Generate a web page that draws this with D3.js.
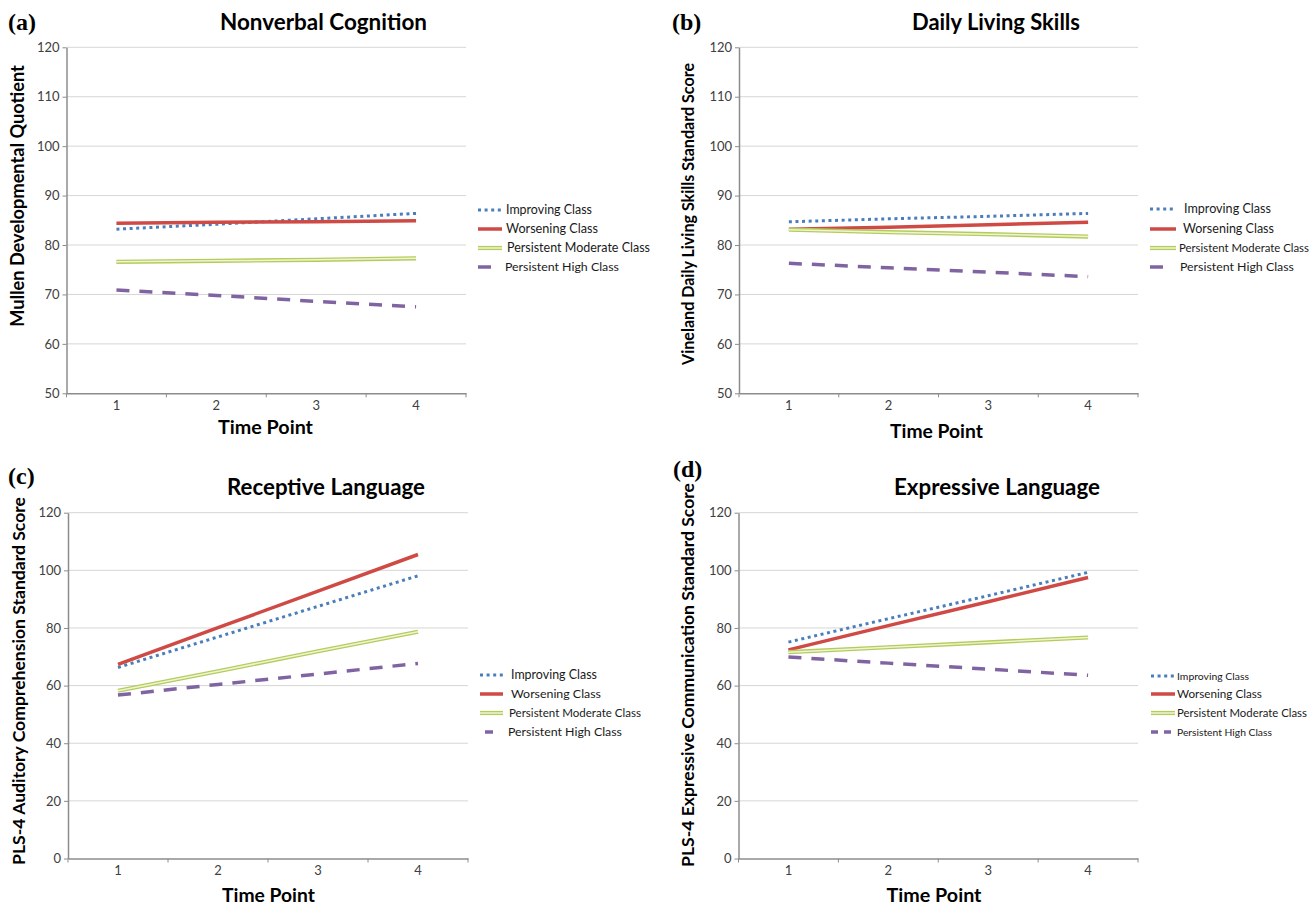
<!DOCTYPE html>
<html><head><meta charset="utf-8">
<script src="https://cdn.jsdelivr.net/npm/d3@7"></script>
<style>body{margin:0;background:#fff} svg{display:block}</style>
</head><body><svg id="chart" width="1312" height="906"></svg>
<script>
// ---------------- data ----------------
const timePoints = [1, 2, 3, 4];
const classNames = ["Improving Class", "Worsening Class", "Persistent Moderate Class", "Persistent High Class"];
const panelLetters = ["(a)", "(b)", "(c)", "(d)"];
const panelTitles = ["Nonverbal Cognition", "Daily Living Skills", "Receptive Language", "Expressive Language"];
const yAxisTitles = ["Mullen Developmental Quotient", "Vineland Daily Living Skills Standard Score",
  "PLS-4 Auditory Comprehension Standard Score", "PLS-4 Expressive Communication Standard Score"];
const xAxisTitle = "Time Point";
const yTicksTop = [50, 60, 70, 80, 90, 100, 110, 120];
const yTicksBottom = [0, 20, 40, 60, 80, 100, 120];

// (a) Nonverbal Cognition
const nonverbalImproving = [83.2, 84.2, 85.3, 86.4];
const nonverbalWorsening = [84.4, 84.6, 84.7, 84.9];
const nonverbalModerate  = [76.6, 76.8, 77.0, 77.3];
const nonverbalHigh      = [70.9, 69.8, 68.6, 67.5];
// (b) Daily Living Skills
const dailyImproving = [84.7, 85.3, 85.8, 86.4];
const dailyWorsening = [83.2, 83.6, 84.1, 84.6];
const dailyModerate  = [83.1, 82.6, 82.2, 81.7];
const dailyHigh      = [76.3, 75.4, 74.5, 73.6];
// (c) Receptive Language
const receptiveImproving = [66.3, 76.9, 87.5, 98.1];
const receptiveWorsening = [67.4, 80.1, 92.8, 105.5];
const receptiveModerate  = [58.2, 65.0, 71.9, 78.7];
const receptiveHigh      = [56.7, 60.4, 64.0, 67.7];
// (d) Expressive Language
const expressiveImproving = [75.1, 83.2, 91.2, 99.3];
const expressiveWorsening = [72.4, 80.8, 89.1, 97.5];
const expressiveModerate  = [71.6, 73.3, 75.0, 76.7];
const expressiveHigh      = [69.9, 67.8, 65.7, 63.6];

// ---------------- layout / styles ----------------
const panels = [
  { series: [nonverbalImproving, nonverbalWorsening, nonverbalModerate, nonverbalHigh],
    ticks: yTicksTop, left: 66.5, right: 466, top: 47.3, bottom: 393.3,
    letter: [8, 30], title: [220, 30, 207], ytitle: [17.5, 196, 262], xtitle: [265.5, 427, 95],
    legend: { x0: 478, len: 24, tx: [506, 506, 507, 505], rows: [210, 229, 248, 267], widths: [86, 92, 143, 114], hx0: 478, hlen: 13, hdash: "13,20" } },
  { series: [dailyImproving, dailyWorsening, dailyModerate, dailyHigh],
    ticks: yTicksTop, left: 739, right: 1138, top: 47.3, bottom: 393.3,
    letter: [672, 30], title: [912, 30, 168], ytitle: [688, 214, 302], xtitle: [936.5, 431, 93],
    legend: { x0: 1150, len: 26, tx: [1184, 1183, 1179, 1180], rows: [209, 229, 248, 267], widths: [87, 91, 130, 114], hx0: 1150, hlen: 13, hdash: "13,20" } },
  { series: [receptiveImproving, receptiveWorsening, receptiveModerate, receptiveHigh],
    ticks: yTicksBottom, left: 68, right: 468, top: 512.7, bottom: 858.5,
    letter: [8, 484], title: [227, 495, 198], ytitle: [18.5, 681, 368], xtitle: [268.5, 895, 93],
    legend: { x0: 480, len: 23, tx: [511, 511, 509, 508], rows: [675, 694, 713, 732], widths: [86, 90, 132, 114], hx0: 485, hlen: 8, hdash: "8,20" } },
  { series: [expressiveImproving, expressiveWorsening, expressiveModerate, expressiveHigh],
    ticks: yTicksBottom, left: 738.5, right: 1138, top: 512.7, bottom: 858.5,
    letter: [673, 477], title: [894, 495, 206], ytitle: [687.5, 675, 384], xtitle: [934, 895, 95],
    legend: { x0: 1151, len: 24, tx: [1177, 1177, 1177, 1177], rows: [676, 694, 713, 732], widths: [72, 85, 130, 95], hx0: 1151, hlen: 24, hdash: "7,6" } }
];

const BASE_FONT = "Lato, 'Open Sans', sans-serif";
const styleFor = [
  { color: "#4a7ebb", width: 3, dash: "3,3.6" },
  { color: "#cf4a45", width: 3.5, dash: null },
  { color: "#b5cc5c", width: 4.2, dash: null, inner: "#eef4d6", innerWidth: 1.5 },
  { color: "#8064a2", width: 3.5, dash: "13,10" }
];

const svg = d3.select("#chart");

function fitText(sel, target) {
  const node = sel.node();
  const fs = parseFloat(sel.attr("font-size"));
  const w = node.getComputedTextLength();
  if (w > 0) sel.attr("font-size", (fs * target / w).toFixed(2));
  return sel;
}

function drawStroke(g, pathD, st, dashOverride) {
  const p = g.append("path").attr("d", pathD).attr("fill", "none")
    .attr("stroke", st.color).attr("stroke-width", st.width).attr("stroke-linejoin", "round");
  const dash = dashOverride || st.dash;
  if (dash) p.attr("stroke-dasharray", dash);
  if (st.inner) {
    g.append("path").attr("d", pathD).attr("fill", "none")
      .attr("stroke", st.inner).attr("stroke-width", st.innerWidth);
  }
}

function draw() {
  panels.forEach((P, pi) => {
    const g = svg.append("g");
    const domain = d3.extent(P.ticks);
    const y = d3.scaleLinear().domain(domain).range([P.bottom, P.top]);
    const xb = d3.scaleBand().domain(timePoints).range([P.left, P.right]).padding(0);
    const xc = t => xb(t) + xb.bandwidth() / 2;

    // gridlines
    g.append("g").selectAll("line").data(P.ticks.filter(v => v !== domain[0])).join("line")
      .attr("x1", P.left).attr("x2", P.right)
      .attr("y1", d => y(d)).attr("y2", d => y(d))
      .attr("stroke", "#d6d6d6").attr("stroke-width", 1);

    // y axis
    const yAx = g.append("g").attr("transform", `translate(${P.left},0)`)
      .call(d3.axisLeft(y).tickValues(P.ticks).tickSize(4).tickPadding(3).tickSizeOuter(0));
    yAx.select(".domain").attr("stroke", "#8c8c8c").attr("stroke-width", 1.5);
    yAx.selectAll(".tick line").attr("stroke", "#8c8c8c");
    yAx.selectAll(".tick text").attr("font-family", BASE_FONT).attr("font-size", 13).attr("fill", "#404040");

    // x axis (band boundaries ticks, labels centered)
    const xAx = g.append("g").attr("transform", `translate(0,${P.bottom})`)
      .call(d3.axisBottom(xb).tickSize(0).tickPadding(7).tickSizeOuter(0));
    xAx.select(".domain").attr("stroke", "#8c8c8c").attr("stroke-width", 1.5);
    xAx.selectAll(".tick text").attr("font-family", BASE_FONT).attr("font-size", 13).attr("fill", "#404040");
    const bounds = timePoints.map(t => xb(t) + xb.bandwidth()).concat([P.left]);
    g.append("g").selectAll("line").data(bounds).join("line")
      .attr("x1", d => d).attr("x2", d => d).attr("y1", P.bottom).attr("y2", P.bottom + 4)
      .attr("stroke", "#8c8c8c").attr("stroke-width", 1);

    // series lines
    const line = d3.line().x((d, i) => xc(timePoints[i])).y(d => y(d));
    P.series.forEach((vals, si) => drawStroke(g, line(vals), styleFor[si]));

    // legend
    const L = P.legend;
    classNames.forEach((name, si) => {
      const yy = L.rows[si];
      if (si === 3) {
        drawStroke(g, `M${L.hx0},${yy}H${L.hx0 + L.hlen}`, styleFor[si], L.hdash);
      } else {
        drawStroke(g, `M${L.x0},${yy}H${L.x0 + L.len}`, styleFor[si]);
      }
      const t = g.append("text").attr("x", L.tx[si]).attr("y", yy).attr("dy", "0.35em")
        .attr("font-family", BASE_FONT).attr("font-size", 12).attr("fill", "#1a1a1a").text(name);
      fitText(t, L.widths[si]);
    });

    // panel letter
    g.append("text").attr("x", P.letter[0]).attr("y", P.letter[1])
      .attr("font-family", "'Liberation Serif', 'Times New Roman', serif").attr("font-weight", "bold")
      .attr("font-size", 24).attr("fill", "#000").text(panelLetters[pi]);

    // title
    const tt = g.append("text").attr("x", P.title[0]).attr("y", P.title[1])
      .attr("font-family", BASE_FONT).attr("font-weight", "bold").attr("font-size", 21)
      .attr("fill", "#000").text(panelTitles[pi]);
    fitText(tt, P.title[2]);

    // y axis title
    const yt = g.append("text").attr("transform", `translate(${P.ytitle[0]},${P.ytitle[1]}) rotate(-90)`)
      .attr("text-anchor", "middle").attr("dy", "0.35em")
      .attr("font-family", BASE_FONT).attr("font-weight", "bold").attr("font-size", 15)
      .attr("fill", "#000").text(yAxisTitles[pi]);
    fitText(yt, P.ytitle[2]);

    // x axis title
    const xt = g.append("text").attr("x", P.xtitle[0]).attr("y", P.xtitle[1])
      .attr("text-anchor", "middle").attr("dy", "0.35em")
      .attr("font-family", BASE_FONT).attr("font-weight", "bold").attr("font-size", 18)
      .attr("fill", "#000").text(xAxisTitle);
    fitText(xt, P.xtitle[2]);
  });
}

if (document.fonts && document.fonts.ready) document.fonts.ready.then(draw); else draw();
</script>
</body></html>
